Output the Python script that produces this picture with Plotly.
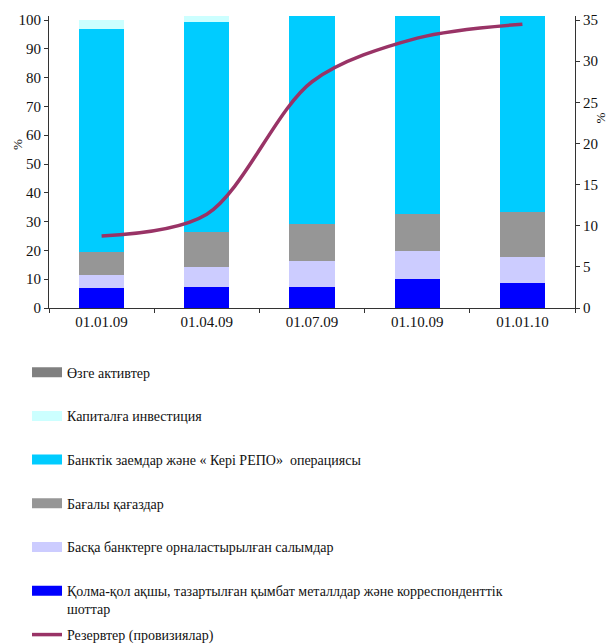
import plotly.graph_objects as go

categories = ["01.01.09", "01.04.09", "01.07.09", "01.10.09", "01.01.10"]
cash = [7.0, 7.4, 7.4, 10.1, 8.7]
deposits = [4.5, 6.9, 8.9, 9.7, 9.0]
securities = [8.0, 12.2, 13.0, 12.9, 15.7]
loans = [77.4, 72.8, 73.0, 70.0, 69.0]
capital = [3.1, 2.5, 1.5, 1.2, 1.0]
other = [0.0, 2.0, 3.0, 3.0, 3.0]
reserves = [8.75, 11.4, 27.5, 32.8, 34.5]

series = [
    ("Қолма-қол ақшы, тазартылған қымбат металлдар және корреспонденттік<br>шоттар", cash, "#0000FF", 6, "g6"),
    ("Басқа банктерге орналастырылған салымдар", deposits, "#CCCCFF", 5, "g5"),
    ("Бағалы қағаздар", securities, "#969696", 4, "g4"),
    ("Банктік заемдар және « Кері РЕПО»\u00a0 операциясы", loans, "#00CCFF", 3, "g3"),
    ("Капиталға инвестиция", capital, "#CCFFFF", 2, "g2"),
    ("Өзге активтер", other, "#808080", 1, "g1"),
]

FONT = "Liberation Serif"
fig = go.Figure()
for name, vals, color, rank, grp in series:
    fig.add_trace(go.Bar(x=categories, y=vals, name=name, marker=dict(color=color, line=dict(width=0)),
                         showlegend=False, legendgroup=grp))
    fig.add_trace(go.Scatter(x=[None], y=[None], mode="lines", name=name,
                             line=dict(color=color, width=10), legendgroup=grp, legendrank=rank))

fig.add_trace(go.Scatter(x=categories, y=reserves, name="Резервтер (провизиялар)", yaxis="y2",
                         mode="lines", line=dict(color="#993366", width=3.5, shape="spline", smoothing=0.9),
                         legend="legend2"))

legend_common = dict(xanchor="left", yanchor="top", font=dict(family=FONT, size=14),
                     bgcolor="rgba(0,0,0,0)", valign="top")

fig.update_layout(
    width=609, height=644,
    margin=dict(l=49, r=34, t=16, b=336, autoexpand=False),
    barmode="stack", bargap=0.57,
    plot_bgcolor="white", paper_bgcolor="white",
    font=dict(family=FONT, size=14, color="#111"),
    xaxis=dict(type="category", tickson="boundaries", ticks="outside", ticklen=4, tickcolor="#333",
               showline=True, linecolor="#333", linewidth=1, showgrid=False, tickangle=0,
               automargin=False, tickfont=dict(family=FONT, size=15)),
    yaxis=dict(range=[0, 101.4], dtick=10, ticks="outside", ticklen=4, tickcolor="#333",
               showline=True, linecolor="#333", linewidth=1, showgrid=False, zeroline=False,
               automargin=False, tickfont=dict(family=FONT, size=15)),
    yaxis2=dict(range=[0, 35.49], dtick=5, overlaying="y", side="right", ticks="outside", ticklen=4,
                tickcolor="#333", showline=True, linecolor="#333", linewidth=1, showgrid=False,
                zeroline=False, automargin=False, tickfont=dict(family=FONT, size=15)),
    legend=dict(x=-0.0418, y=-0.1664, traceorder="grouped", tracegroupgap=22.5, **legend_common),
    legend2=dict(x=-0.0418, y=-1.065, **legend_common),
    annotations=[
        dict(text="%", xref="paper", yref="paper", x=-0.06, y=0.56, xanchor="center", yanchor="middle",
             showarrow=False, textangle=-90, font=dict(family=FONT, size=13)),
        dict(text="%", xref="paper", yref="paper", x=1.048, y=0.65, xanchor="center", yanchor="middle",
             showarrow=False, textangle=-90, font=dict(family=FONT, size=13)),
    ],
)

fig.write_html("out.html", config={"displayModeBar": False},
               post_script="document.body.style.margin='0';")
